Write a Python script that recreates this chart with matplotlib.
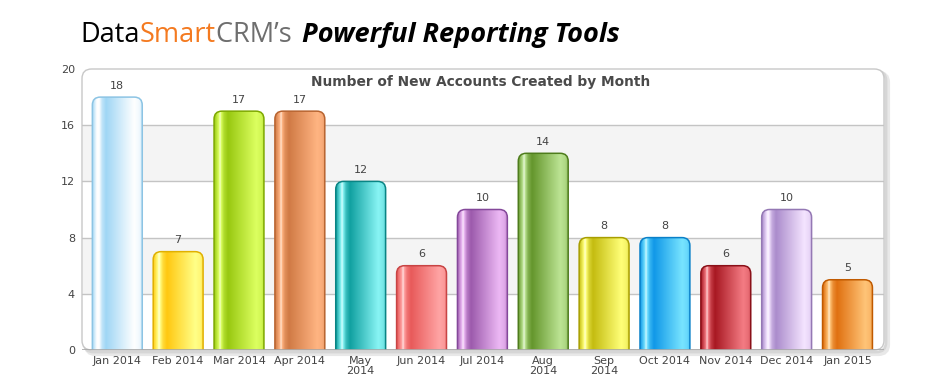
import numpy as np
import matplotlib
matplotlib.use("Agg")
import matplotlib.pyplot as plt
from matplotlib.patches import FancyBboxPatch
from matplotlib.colors import to_rgb

months = ["Jan 2014", "Feb 2014", "Mar 2014", "Apr 2014", "May\n2014", "Jun 2014",
          "Jul 2014", "Aug\n2014", "Sep\n2014", "Oct 2014", "Nov 2014", "Dec 2014", "Jan 2015"]
accounts = [18, 7, 17, 17, 12, 6, 10, 14, 8, 8, 6, 10, 5]
dark_colors = ["#9fd6f5", "#ffc810", "#98c810", "#d07a45", "#10a0a0", "#e85a5a",
               "#9c5aac", "#64962c", "#c4bc10", "#1098e8", "#a81822", "#ab8ccc", "#e07010"]
light_colors = ["#ffffff", "#ffff88", "#dcff60", "#ffb482", "#88f4f4", "#ffa4a4",
                "#ecb8f4", "#bce494", "#ffff78", "#78e4ff", "#f47c84", "#f4e4ff", "#ffc478"]
edge_colors = ["#8cc4e4", "#e0b000", "#7ea800", "#b86430", "#0a8484", "#c84444",
               "#84489a", "#4e7c1c", "#a89e00", "#0a80c8", "#8a1018", "#9478b4", "#c05a00"]
yticks = [0, 4, 8, 12, 16, 20]

W, H = 950, 390
fig = plt.figure(figsize=(W / 100, H / 100), dpi=100)
fig.patch.set_facecolor("white")
ax_l, ax_r, ax_b, ax_t = 82 / W, 884 / W, 1 - 350 / H, 1 - 69 / H
ax = fig.add_axes([ax_l, ax_b, ax_r - ax_l, ax_t - ax_b])
ax.set_facecolor("none")

# frame with shadow
aw, ah = (ax_r - ax_l) * W, (ax_t - ax_b) * H
for off, col, lw in [(4, "#e8e8e8", 3), (2, "#d6d6d6", 2)]:
    sh = FancyBboxPatch((off / aw, -off / ah), 1, 1, boxstyle="round,pad=0,rounding_size=0.012",
                        mutation_aspect=aw / ah, transform=ax.transAxes, facecolor="none",
                        edgecolor=col, lw=lw, clip_on=False, zorder=0)
    ax.add_patch(sh)
frame = FancyBboxPatch((0, 0), 1, 1, boxstyle="round,pad=0,rounding_size=0.012",
                       mutation_aspect=aw / ah, transform=ax.transAxes, facecolor="white",
                       edgecolor="#c8c8c8", lw=1, clip_on=False, zorder=0.5)
ax.add_patch(frame)

# bands and grid
for lo in [4, 12]:
    ax.axhspan(lo, lo + 4, xmin=0.001, xmax=0.999, color="#f4f4f4", zorder=0.8, lw=0)
for y in yticks[1:-1]:
    ax.axhline(y, color="#c4c4c4", lw=1, zorder=0.9)
ax.axhline(0, color="#a8a8a8", lw=1.2, zorder=3)

for s in ax.spines.values():
    s.set_visible(False)

x = np.arange(len(months))
bars = ax.bar(x, accounts, width=0.82, color="none", edgecolor="none", zorder=2)


def profile(dark, light, n=200):
    d, l = np.array(to_rgb(dark)), np.array(to_rgb(light))
    t = np.linspace(0, 1, n)
    pts = [0.0, 0.05, 0.12, 0.2, 0.28, 0.85, 0.95, 1.0]
    vals = [0.0, 0.5, 1.25, 0.35, 0.0, 1.0, 0.85, 0.55]
    f = np.interp(t, pts, vals)
    row = np.zeros((n, 3))
    for i, fi in enumerate(f):
        if fi <= 1:
            row[i] = d + (l - d) * fi
        else:
            row[i] = l + (np.ones(3) - l) * (fi - 1) * 3
    return np.clip(row, 0, 1)[None, :, :]


xlim = (-0.58, 12.6)
xpx = aw / (xlim[1] - xlim[0])
ypx = ah / 20
rad = 8
for rect, dc, lc, ec, v in zip(bars.patches, dark_colors, light_colors, edge_colors, accounts):
    x0, w, h = rect.get_x(), rect.get_width(), rect.get_height()
    clip = FancyBboxPatch((x0, -2), w, h + 2,
                          boxstyle=f"round,pad=0,rounding_size={rad / xpx}",
                          mutation_aspect=(rad / ypx) / (rad / xpx),
                          facecolor="none", edgecolor=ec, lw=1.1, zorder=2.5,
                          transform=ax.transData)
    ax.add_patch(clip)
    im = ax.imshow(profile(dc, lc), extent=(x0, x0 + w, 0, h), aspect="auto",
                   interpolation="bilinear", zorder=2)
    im.set_clip_path(clip)
    ax.text(x0 + w / 2, h + 0.45, str(v), ha="center", va="bottom",
            fontsize=8, color="#444444", zorder=4)

ax.set_aspect("auto")
ax.set_xlim(*xlim)
ax.set_ylim(0, 20)
ax.set_xticks(x)
ax.set_xticklabels(months, fontsize=8, color="#444444", linespacing=1.05)
ax.set_yticks(yticks)
ax.set_yticklabels([str(v) for v in yticks], fontsize=8, color="#444444")
ax.tick_params(length=0, pad=4)
ax.tick_params(axis="y", pad=5)

ax.text(0.497, 0.955, "Number of New Accounts Created by Month", transform=ax.transAxes,
        ha="center", va="center", fontsize=9.9, fontweight="bold", color="#4a4a4a", zorder=5)

# header title built from colored pieces
pieces = [("Data", "#000000", "normal", "normal"),
          ("Smart", "#f47a20", "normal", "normal"),
          ("CRM\u2019s ", "#6e6e6e", "normal", "normal"),
          ("Powerful Reporting Tools", "#000000", "bold", "italic")]
fig.canvas.draw()
renderer = fig.canvas.get_renderer()
xcur = 80
ybase = H - 42
for txt, col, wt, st in pieces:
    t = fig.text(xcur / W, ybase / H, txt, color=col, fontweight=wt, fontstyle=st,
                 fontsize=19.5, family="Open Sans", ha="left", va="baseline")
    bb = t.get_window_extent(renderer)
    xcur += bb.width + (4 if txt.endswith(" ") else 0)

fig.savefig("out.png", dpi=100)
